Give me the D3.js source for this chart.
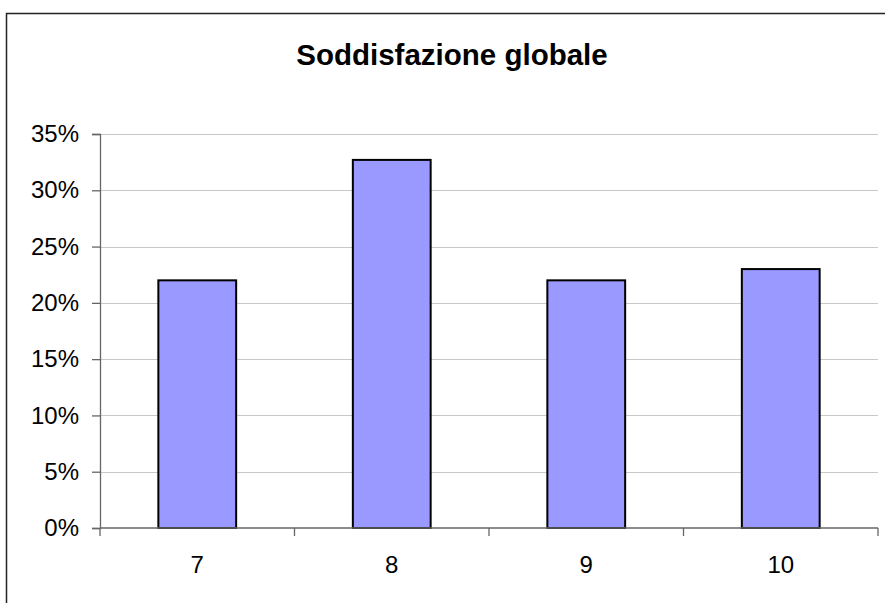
<!DOCTYPE html>
<html lang="it">
<head>
    <meta charset="UTF-8">
    <title>Soddisfazione globale</title>
    <script src="https://d3js.org/d3.v7.min.js"></script>
    <style>
        body { margin: 0; background: #fff; }
        text { font-family: Arial, "Liberation Sans", sans-serif; fill: #000; }
    </style>
</head>
<body>

<div id="chart"></div>

<script>
// Data
const categories = ["7", "8", "9", "10"];
const shares = [0.22, 0.327, 0.22, 0.23];
const yTicks = [0, 0.05, 0.10, 0.15, 0.20, 0.25, 0.30, 0.35];
const title = "Soddisfazione globale";

const W = 885, H = 603;
const margin = { top: 134, right: 7, bottom: 75, left: 100 };
const width = W - margin.left - margin.right;
const height = H - margin.top - margin.bottom;

const svg = d3.select("#chart")
    .append("svg")
    .attr("width", W)
    .attr("height", H);

// outer chart frame (runs off the right and bottom edges)
svg.append("rect")
    .attr("x", 6.5)
    .attr("y", 13.5)
    .attr("width", 920)
    .attr("height", 640)
    .attr("fill", "none")
    .attr("stroke", "#222")
    .attr("stroke-width", 1.5);

svg.append("text")
    .attr("x", 452)
    .attr("y", 65)
    .attr("text-anchor", "middle")
    .style("font-size", "29.5px")
    .style("font-weight", "bold")
    .text(title);

const g = svg.append("g")
    .attr("transform", `translate(${margin.left},${margin.top})`);

const x = d3.scaleBand()
    .domain(categories)
    .range([0, width])
    .paddingInner(0.6)
    .paddingOuter(0.3);

// band edges for the category tick marks
const xEdges = d3.scaleBand()
    .domain(categories)
    .range([0, width]);

const y = d3.scaleLinear()
    .domain([0, 0.35])
    .range([height, 0]);

// gridlines
g.selectAll("line.grid")
    .data(yTicks.slice(1))
    .join("line")
    .attr("class", "grid")
    .attr("x1", 0)
    .attr("x2", width)
    .attr("y1", d => Math.round(y(d)) + 0.5)
    .attr("y2", d => Math.round(y(d)) + 0.5)
    .attr("stroke", "#c8c8c8")
    .attr("stroke-width", 1.2);

// bars
g.selectAll("rect.bar")
    .data(shares)
    .join("rect")
    .attr("class", "bar")
    .attr("x", (d, i) => x(categories[i]))
    .attr("y", d => y(d))
    .attr("width", x.bandwidth())
    .attr("height", d => y(0) - y(d))
    .attr("fill", "#9999ff")
    .attr("stroke", "#000")
    .attr("stroke-width", 2);

// y axis
const yAxis = g.append("g")
    .call(d3.axisLeft(y).tickValues(yTicks).tickFormat(d3.format(".0%")).tickSize(8).tickPadding(13));
yAxis.select(".domain").attr("stroke", "#666").attr("stroke-width", 1.3);
yAxis.selectAll(".tick line").attr("stroke", "#666").attr("stroke-width", 1.3);
yAxis.selectAll(".tick text").style("font-size", "24px").style("font-family", "Arial, 'Liberation Sans', sans-serif");

// x axis
const xAxis = g.append("g")
    .attr("transform", `translate(0,${height})`)
    .call(d3.axisBottom(x).tickSize(0).tickPadding(28));
xAxis.select(".domain").remove();
xAxis.selectAll(".tick text").style("font-size", "24px").style("font-family", "Arial, 'Liberation Sans', sans-serif");

g.append("line")
    .attr("x1", 0)
    .attr("x2", width)
    .attr("y1", height)
    .attr("y2", height)
    .attr("stroke", "#666")
    .attr("stroke-width", 1.3);

g.selectAll("line.xtick")
    .data([...categories.map(c => xEdges(c)), width])
    .join("line")
    .attr("class", "xtick")
    .attr("x1", d => d)
    .attr("x2", d => d)
    .attr("y1", height)
    .attr("y2", height + 8)
    .attr("stroke", "#666")
    .attr("stroke-width", 1.3);
</script>

</body>
</html>
